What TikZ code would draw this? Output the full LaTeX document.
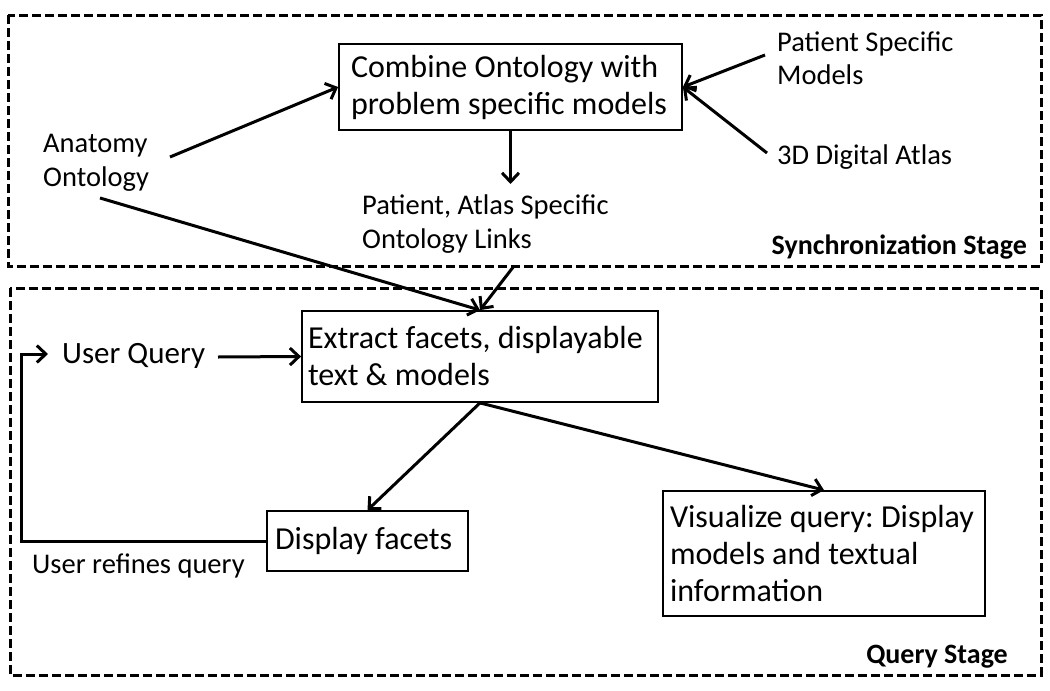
\documentclass[tikz,border=0pt]{standalone}
\usepackage{fontspec}
\setmainfont{Carlito}
\frenchspacing
\usetikzlibrary{arrows.meta,calc}
\newcommand{\boxtext}[2]{\parbox[c]{#1}{\raggedright #2}}
\tikzset{
  stage/.style={draw=black, line width=3pt, dash pattern=on 9pt off 4pt},
  boxnode/.style={draw=black, line width=1.8pt, inner ysep=2pt,
    font=\fontsize{32}{37}\selectfont},
  plain/.style={inner sep=0pt, align=left, font=\fontsize{28.5}{33.5}\selectfont},
  big/.style={inner sep=0pt, align=left, font=\fontsize{31}{36}\selectfont},
  stagelabel/.style={inner sep=0pt, font=\bfseries\fontsize{28}{32}\selectfont},
  arr/.style={line width=3pt, -{Straight Barb[length=9pt,width=17pt,line width=3pt]}}
}
\begin{document}
\begin{tikzpicture}[x=1pt,y=-1pt]
\useasboundingbox (0,0) rectangle (1050,691);
\fill[white] (0,0) rectangle (1050,691);
% stage frames
\draw[stage] (8,15) rectangle (1041,266);
\draw[stage] (10,288) rectangle (1041,675);
\node[stagelabel, anchor=east] (sync) at (1027,247) {Synchronization Stage};
\node[stagelabel, anchor=east] (qs) at (1008,657) {Query Stage};
% synchronization stage
\node[boxnode, minimum width=343pt, minimum height=86pt, inner xsep=12pt] (comb) at (510.5,87)
  {\boxtext{319pt}{Combine Ontology with\\problem specific models}};
\node[plain, anchor=west] (anat) at (43,163) {Anatomy\\Ontology};
\node[plain, anchor=west] (psm) at (777,58) {Patient Specific\\Models};
\node[plain, anchor=west] (atlas) at (777,157) {3D Digital Atlas};
\node[plain, anchor=west] (pal) at (362,224) {Patient, Atlas Specific\\Ontology Links};
\coordinate (anatR) at (170,157);
\coordinate (psmL) at (765,55);
\coordinate (atlasL) at (767,153);
\coordinate (palB) at (514,266);
\draw[arr] (anatR) -- (comb.west);
\draw[arr] (psmL) -- (comb.east);
\draw[arr] (atlasL) -- (comb.east);
\draw[arr] (comb.south) -- (comb.south |- 0,184);
% query stage
\node[boxnode, minimum width=356pt, minimum height=91pt, inner xsep=6pt] (ext) at (480,356.5)
  {\boxtext{344pt}{Extract facets, displayable\\text \& models}};
\node[big, anchor=west] (uq) at (62,356) {User Query};
\node[boxnode, minimum width=201pt, minimum height=60pt, inner xsep=8pt] (disp) at (367.5,541)
  {\boxtext{185pt}{Display facets}};
\node[boxnode, minimum width=322pt, minimum height=125pt, inner xsep=7pt] (vis) at (824,553.5)
  {\boxtext{308pt}{Visualize query: Display\\models and textual\\information}};
\node[plain, anchor=west] (urq) at (32,566) {User refines query};
\draw[arr] (100,198) coordinate (anatB) -- (ext.north);
\draw[arr] (palB) -- (ext.north);
\draw[arr] (218,357) coordinate (uqR) -- (ext.west);
\draw[arr] (ext.south) -- (disp.north);
\draw[arr] (ext.south) -- (vis.north);
\coordinate (fbx) at (21,0);
\draw[arr] (disp.west) -- (disp.west -| fbx) -- (fbx |- 0,354) -- ($(uq.west |- 0,354)+(-14,0)$);
\end{tikzpicture}
\end{document}
